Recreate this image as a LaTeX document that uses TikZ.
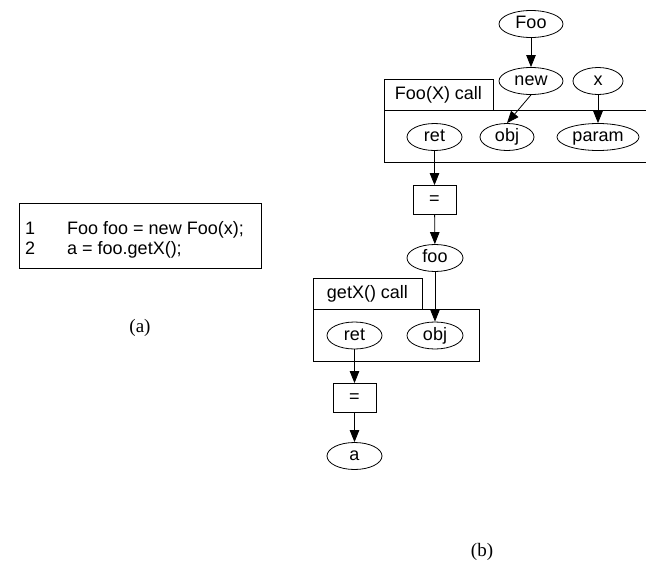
\documentclass[tikz,border=0pt]{standalone}
\usepackage{fontspec}
\setmainfont{Liberation Sans}
\newfontfamily\capfont{Liberation Serif}
\usetikzlibrary{shapes.geometric,arrows.meta}
\tikzset{
  lbl/.style={font=\fontsize{18}{20}\selectfont},
  ell/.style={ellipse,draw,line width=0.8pt,inner sep=0pt,minimum height=27pt,text height=13pt,text depth=4pt,lbl},
  eqbox/.style={rectangle,draw,line width=0.8pt,inner sep=0pt,minimum width=43pt,minimum height=29pt,text height=13pt,text depth=4pt,lbl},
  frame/.style={draw,line width=0.8pt},
  conn/.style={draw,line width=0.8pt,-{Triangle[length=12pt,width=9.5pt]}},
}
\begin{document}
\begin{tikzpicture}[x=1pt,y=-1pt]
\useasboundingbox (0,0) rectangle (646,565);
\fill[white] (0,0) rectangle (646,565);
% (a) code box
\draw[frame] (19,203) rectangle (261,268);
\node[lbl,anchor=base west,inner sep=0pt] (n1) at (25,234.5) {1};
\node[lbl,anchor=base west,inner sep=0pt] (c1) at (67,234.5) {Foo foo = new Foo(x);};
\node[lbl,anchor=base west,inner sep=0pt] (n2) at (25,254.5) {2};
\node[lbl,anchor=base west,inner sep=0pt] (c2) at (67,254.5) {a = foo.getX();};
\node[font=\capfont\fontsize{19}{21}\selectfont] (capa) at (140,328) {(a)};
% (b) Foo(X) call frame
\draw[frame] (384,79) rectangle (493,110);
\node[lbl,text height=13pt,text depth=4pt] (lab1) at (438.5,95) {Foo(X) call};
\draw[frame] (384,110) rectangle (680,162);
% getX() call frame
\draw[frame] (313,278) rectangle (422,309);
\node[lbl,text height=13pt,text depth=4pt] (lab2) at (367.5,294) {getX() call};
\draw[frame] (313,309) rectangle (479,361);
% nodes
\node[ell,minimum width=64pt] (Foo) at (531,24) {Foo};
\node[ell,minimum width=64pt] (new) at (531,81) {new};
\node[ell,minimum width=50pt] (x) at (598,81) {x};
\node[ell,minimum width=55pt] (ret1) at (434.5,137) {ret};
\node[ell,minimum width=54pt] (obj1) at (507,137) {obj};
\node[ell,minimum width=82pt] (param) at (598,137) {param};
\node[eqbox] (eq1) at (434.5,200) {=};
\node[ell,minimum width=56pt] (foo) at (435,258) {foo};
\node[ell,minimum width=55pt] (ret2) at (354.5,335.5) {ret};
\node[ell,minimum width=56pt] (obj2) at (435,335.5) {obj};
\node[eqbox] (eq2) at (354.5,398) {=};
\node[ell,minimum width=55pt] (a) at (354.5,456) {a};
\node[font=\capfont\fontsize{19}{21}\selectfont] (capb) at (482,552) {(b)};
% connectors
\draw[conn] (Foo) -- (new);
\draw[conn] (new.south) -- (obj1.north);
\draw[conn] (x) -- (param);
\draw[conn] (ret1) -- (eq1);
\draw[conn] (eq1) -- (foo);
\draw[conn] (foo) -- (obj2);
\draw[conn] (ret2) -- (eq2);
\draw[conn] (eq2) -- (a);
\end{tikzpicture}
\end{document}
